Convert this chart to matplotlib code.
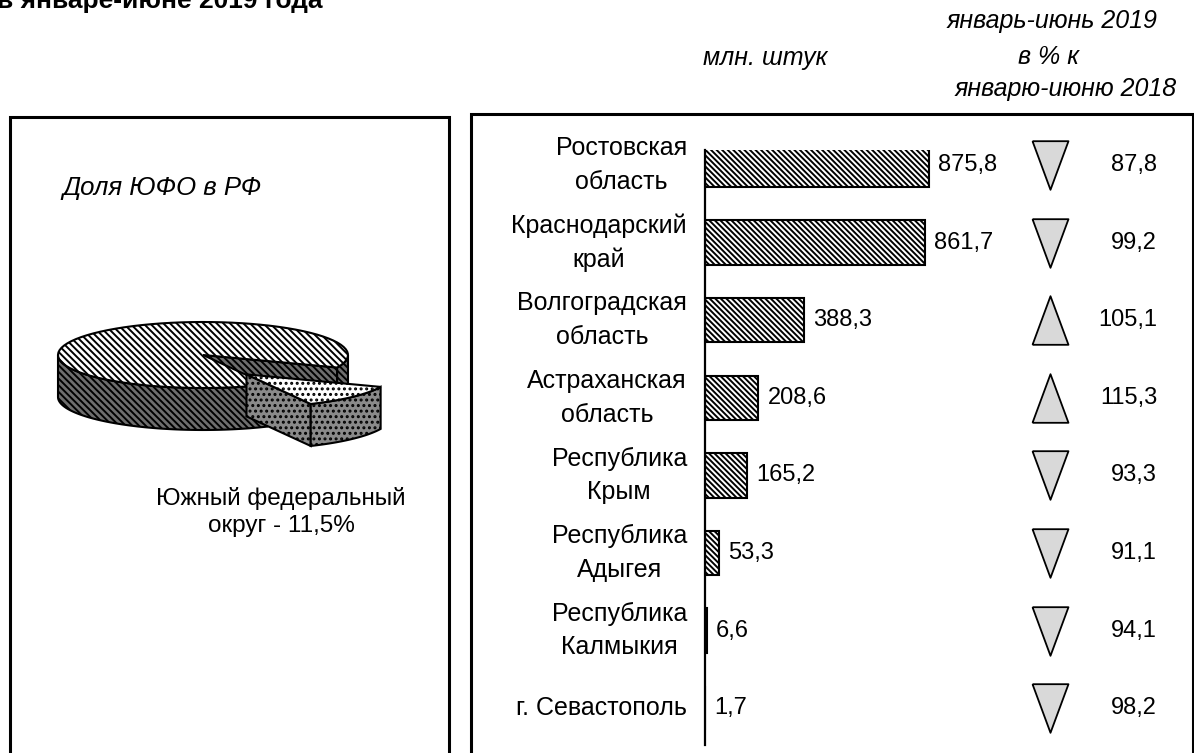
import numpy as np
import matplotlib
matplotlib.use("Agg")
import matplotlib.pyplot as plt
from matplotlib.patches import Polygon, Rectangle
from matplotlib.path import Path
from matplotlib.transforms import blended_transform_factory

plt.rcParams['font.family'] = ['Liberation Sans', 'DejaVu Sans']
plt.rcParams['hatch.linewidth'] = 1.4

# data
regions = ["Ростовская\nобласть", "Краснодарский\nкрай", "Волгоградская\nобласть",
           "Астраханская\nобласть", "Республика\nКрым", "Республика\nАдыгея",
           "Республика\nКалмыкия", "г. Севастополь"]
volume = [875.8, 861.7, 388.3, 208.6, 165.2, 53.3, 6.6, 1.7]
pct_prev = [87.8, 99.2, 105.1, 115.3, 93.3, 91.1, 94.1, 98.2]
share_sfo = 11.5

W, H = 1194, 753
fig = plt.figure(figsize=(W / 100, H / 100), dpi=100)
FS = 18
FN = 17


def fx(x):
    return x / W


def fy(y):
    return 1 - y / H


def num(v):
    return f"{v:.1f}".replace(".", ",")


# frames
fig.patches.append(Rectangle((fx(10), fy(800)), fx(449) - fx(10), fy(117) - fy(800),
                             transform=fig.transFigure, fill=False, lw=2.2, ec="black"))
fig.patches.append(Rectangle((fx(471), fy(800)), fx(1193) - fx(471), fy(114) - fy(800),
                             transform=fig.transFigure, fill=False, lw=2.2, ec="black"))

# cut-off title and headers
fig.text(fx(-3), fy(8), "в январе-июне 2019 года", fontsize=19, fontweight="bold",
         va="baseline", ha="left")
fig.text(fx(765), fy(58), "млн. штук", fontsize=FS, style="italic", ha="center", va="center")
fig.text(fx(1052), fy(21), "январь-июнь 2019", fontsize=FS, style="italic", ha="center", va="center")
fig.text(fx(1048), fy(57), "в % к", fontsize=FS, style="italic", ha="center", va="center")
fig.text(fx(1066), fy(89), "январю-июню 2018", fontsize=FS, style="italic", ha="center", va="center")

# bar chart
ax_left, ax_top, ax_bot, ax_w = 705, 150, 745, 480
ax = fig.add_axes([fx(ax_left), fy(ax_bot), ax_w / W, (ax_bot - ax_top) / H])
px_per_unit = 224 / 875.8
ax.set_xlim(0, ax_w / px_per_unit)
step = 77.6
ax.set_ylim((ax_bot - 165) / step, -(165 - ax_top) / step)
ypos = np.arange(len(regions))
ax.barh(ypos, volume, height=0.57, color="white", edgecolor="black", lw=1.5,
        hatch="\\" * 6)
for y, v in zip(ypos, volume):
    ax.annotate(num(v), (v, y), xytext=(6.5, 0), textcoords="offset points",
                fontsize=FN, va="center", ha="left")
for y, lab in zip(ypos, regions):
    ax.annotate(lab, (0, y), xytext=(-13, 0), textcoords="offset points",
                fontsize=FS, va="center", ha="right", multialignment="center",
                linespacing=1.5)
for s in ["top", "right", "bottom"]:
    ax.spines[s].set_visible(False)
ax.spines["left"].set_linewidth(1.6)
ax.set_xticks([])
ax.set_yticks([])
ax.patch.set_alpha(0)

# change triangles
tri_down = Path([(-0.37, 0.5), (0.37, 0.5), (0, -0.5), (-0.37, 0.5)])
tri_up = Path([(-0.37, -0.5), (0.37, -0.5), (0, 0.5), (-0.37, -0.5)])
bt = blended_transform_factory(ax.transAxes, ax.transData)
tri_x = (1050 - ax_left) / ax_w
txt_x = (1157 - ax_left) / ax_w
for y, p in zip(ypos, pct_prev):
    ax.plot([tri_x], [y], marker=tri_up if p > 100 else tri_down, markersize=35,
            markerfacecolor="#d9d9d9", markeredgecolor="black", markeredgewidth=1.3,
            transform=bt, clip_on=False)
    ax.text(txt_x, y, num(p), transform=bt, fontsize=FN, ha="right", va="center")

# 3D pie
fig.text(fx(62), fy(188), "Доля ЮФО в РФ", fontsize=18.5, style="italic", ha="left", va="center")
fig.text(fx(281), fy(512), "Южный федеральный\nокруг - 11,5%", fontsize=17.5,
         ha="center", va="center", multialignment="center", linespacing=1.3)

a_px = 145.0
cx, cy = 203, 355
pl, pr, pt, pb = 40, 420, 300, 470
axp = fig.add_axes([fx(pl), fy(pb), (pr - pl) / W, (pb - pt) / H])
axp.set_xlim((pl - cx) / a_px, (pr - cx) / a_px)
axp.set_ylim((cy - pb) / a_px, (cy - pt) / a_px)
axp.axis("off")
b = 33 / a_px
d = 42 / a_px

span = 360 * share_sfo / 100
ts = -43 - span / 2
te = -43 + span / 2


def arc(t1, t2, dx=0, dy=0, n=80):
    t = np.radians(np.linspace(t1, t2, n))
    return np.column_stack([np.cos(t) + dx, b * np.sin(t) + dy])


def top(t1, t2, dx, dy, **kw):
    pts = np.vstack([[dx, dy], arc(t1, t2, dx, dy)])
    axp.add_patch(Polygon(pts, closed=True, lw=1.5, ec="black", **kw))


def side(t1, t2, dx, dy, **kw):
    up = arc(t1, t2, dx, dy)
    lo = arc(t2, t1, dx, dy - d)
    axp.add_patch(Polygon(np.vstack([up, lo]), closed=True, lw=1.5, ec="black", **kw))


def cut(t, dx, dy, **kw):
    r = np.radians(t)
    pts = [(dx, dy), (np.cos(r) + dx, b * np.sin(r) + dy),
           (np.cos(r) + dx, b * np.sin(r) + dy - d), (dx, dy - d)]
    axp.add_patch(Polygon(pts, closed=True, lw=1.5, ec="black", **kw))


dark = dict(fc="#6e6e6e", hatch="\\" * 5)
cut(te, 0, 0, **dark)
side(te, 0, 0, 0, **dark)
side(180, ts + 360, 0, 0, **dark)
top(te, ts + 360, 0, 0, fc="white", hatch="\\" * 5)

ex = 0.41
mid = np.radians((ts + te) / 2)
dx, dy = ex * np.cos(mid) * 1.0, ex * b * np.sin(mid) * 2.1
grey = dict(fc="#8a8a8a", hatch="...")
cut(ts, dx, dy, **grey)
side(ts, te, dx, dy, **grey)
top(ts, te, dx, dy, fc="white", hatch="...")

fig.savefig("out.png", dpi=100)
